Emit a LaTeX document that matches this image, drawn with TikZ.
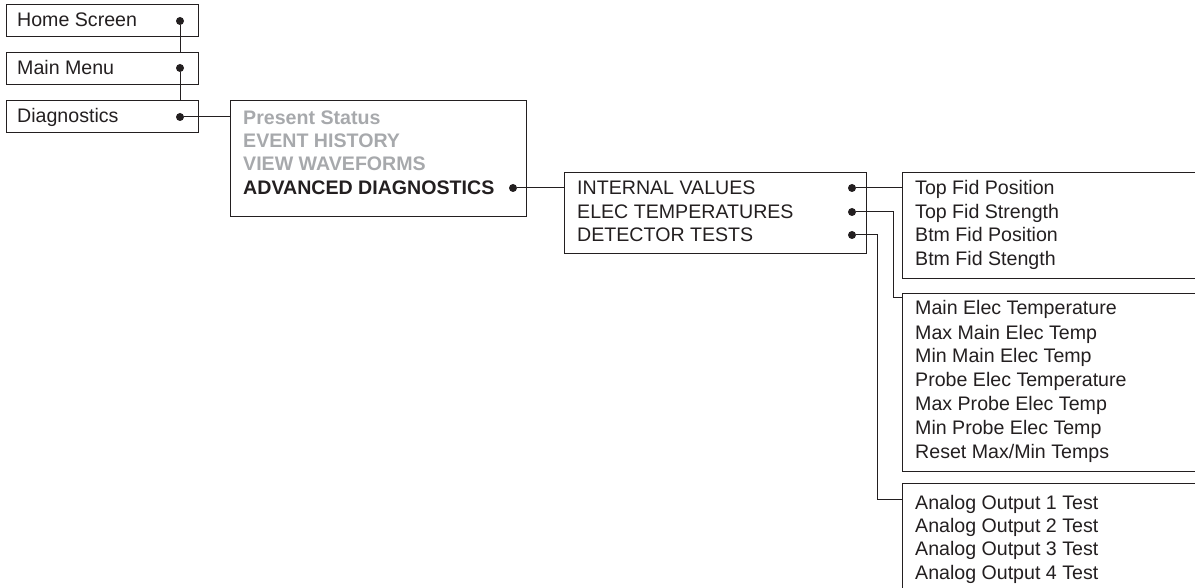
\documentclass[tikz,border=0pt]{standalone}
\usepackage{fontspec}
\setmainfont{Liberation Sans}
\definecolor{ink}{HTML}{231F20}
\definecolor{dim}{HTML}{A7A9AC}
\begin{document}
\begin{tikzpicture}[x=1pt,y=-1pt,
  ln/.style={line width=1pt, draw=ink},
  box/.style={ln, rectangle, anchor=north west, inner sep=0pt, fill=none},
  txt/.style={anchor=west, inner sep=0pt, text height=14pt, text depth=0pt,
    font=\fontsize{19.6}{23}\selectfont, text=ink},
  gtxt/.style={txt, text=dim, font=\fontsize{19.6}{23}\selectfont\bfseries},
  btxt/.style={txt, font=\fontsize{19.6}{23}\selectfont\bfseries},
  dot/.style={circle, fill=ink, inner sep=0pt, minimum size=8pt}]
\useasboundingbox (0,0) rectangle (1195,588);
\clip (0,0) rectangle (1195,588);
% left column
\node[box, minimum width=192pt, minimum height=32pt] (home) at (6,4) {};
\node[box, minimum width=192pt, minimum height=32pt] (main) at (6,52) {};
\node[box, minimum width=192pt, minimum height=32pt] (diag) at (6,100) {};
\node[txt] (tHome) at (17,20) {Home Screen};
\node[txt] (tMain) at (17,68) {Main Menu};
\node[txt] (tDiag) at (17,116) {Diagnostics};
\node[dot] (dHome) at (180,21) {};
\node[dot] (dMain) at (180,68) {};
\node[dot] (dDiag) at (180,117) {};
% diagnostics menu
\node[box, minimum width=296pt, minimum height=116pt] (present) at (230,100) {};
\node[gtxt] (tPres) at (243,118) {Present Status};
\node[gtxt] (tEvent) at (243,141) {EVENT HISTORY};
\node[gtxt] (tView) at (243,164) {VIEW WAVEFORMS};
\node[btxt] (tAdv) at (243,188) {ADVANCED DIAGNOSTICS};
\node[dot] (dAdv) at (513,188) {};
% advanced menu
\node[box, minimum width=302pt, minimum height=81pt] (internal) at (564,172) {};
\node[txt] (tInt) at (577,188) {INTERNAL VALUES};
\node[txt] (tElec) at (577,212) {ELEC TEMPERATURES};
\node[txt] (tDet) at (577,235) {DETECTOR TESTS};
\node[dot] (dInt) at (852,188) {};
\node[dot] (dElec) at (852,212) {};
\node[dot] (dDet) at (852,235) {};
% right boxes (running off the right edge)
\node[box, minimum width=600pt, minimum height=106pt] (fid) at (902,172) {};
\node[txt] (f1) at (915,188) {Top Fid Position};
\node[txt] (f2) at (915,212) {Top Fid Strength};
\node[txt] (f3) at (915,235) {Btm Fid Position};
\node[txt] (f4) at (915,259) {Btm Fid Stength};
\node[box, minimum width=600pt, minimum height=178pt] (temp) at (902,293) {};
\node[txt] (e1) at (915,308) {Main Elec Temperature};
\node[txt] (e2) at (915,332) {Max Main Elec Temp};
\node[txt] (e3) at (915,355) {Min Main Elec Temp};
\node[txt] (e4) at (915,379) {Probe Elec Temperature};
\node[txt] (e5) at (915,403) {Max Probe Elec Temp};
\node[txt] (e6) at (915,427) {Min Probe Elec Temp};
\node[txt] (e7) at (915,451) {Reset Max/Min Temps};
\node[box, minimum width=600pt, minimum height=200pt] (analog) at (902,483) {};
\node[txt] (a1) at (915,502) {Analog Output 1 Test};
\node[txt] (a2) at (915,525) {Analog Output 2 Test};
\node[txt] (a3) at (915,548) {Analog Output 3 Test};
\node[txt] (a4) at (915,572) {Analog Output 4 Test};
% connectors
\draw[ln] (dHome) -- (dHome |- main.north);
\draw[ln] (dMain) -- (dMain |- diag.north);
\draw[ln] (dDiag) -- (dDiag -| present.west);
\draw[ln] (dAdv) -- (dAdv -| internal.west);
\draw[ln] (dInt) -- (dInt -| fid.west);
\coordinate (eTurn) at (893,298);
\draw[ln] (dElec) -| (eTurn) -- (eTurn -| temp.west);
\coordinate (tTurn) at (877,499);
\draw[ln] (dDet) -| (tTurn) -- (tTurn -| analog.west);
\end{tikzpicture}
\end{document}
